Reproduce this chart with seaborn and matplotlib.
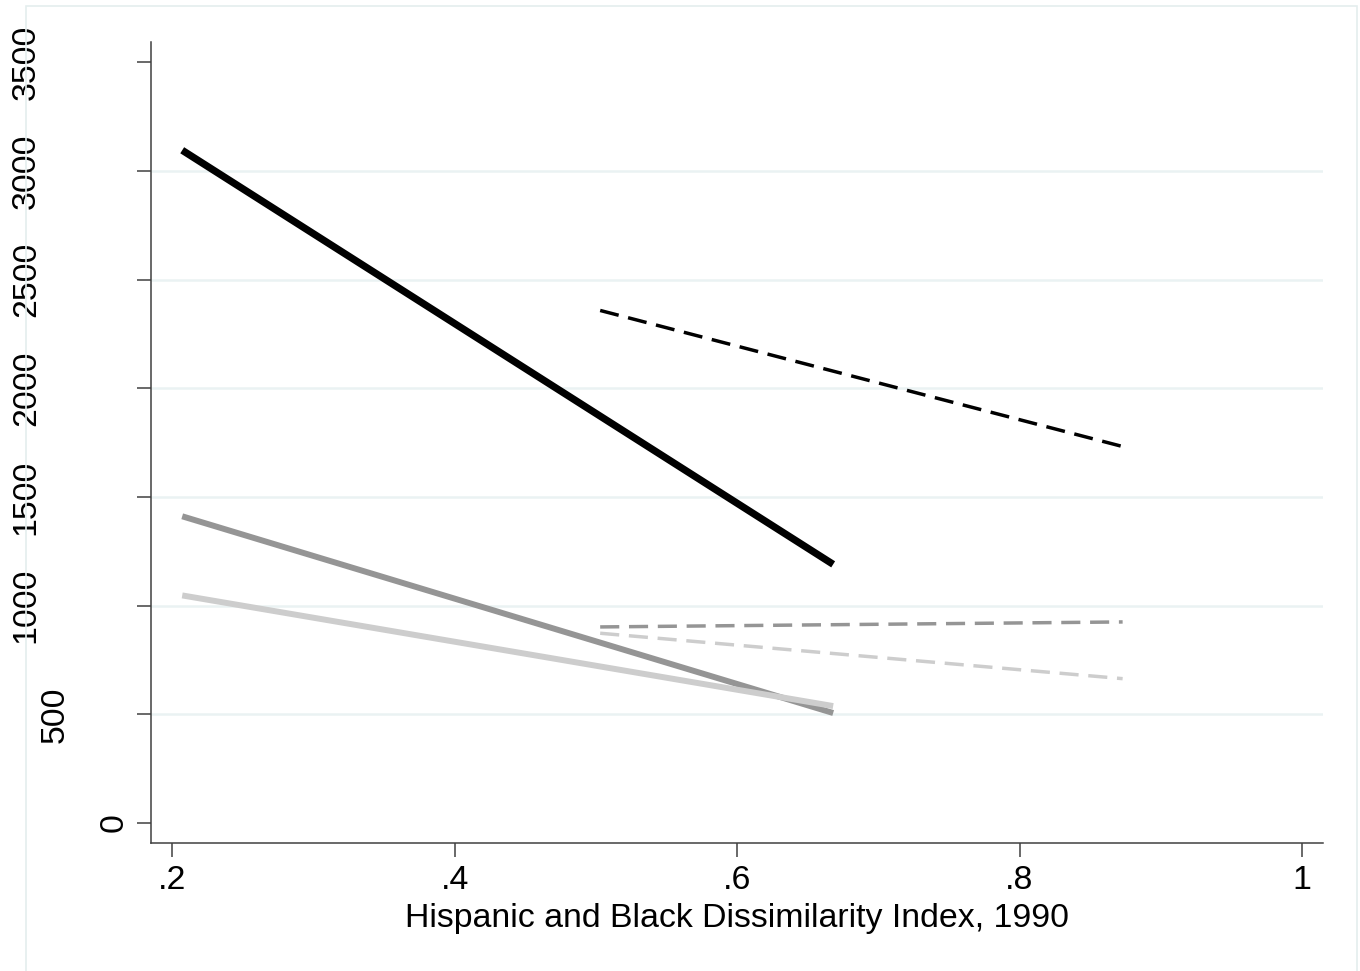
import matplotlib
matplotlib.use("Agg")
import matplotlib.pyplot as plt
import matplotlib.transforms as mtransforms
from matplotlib.patches import Rectangle
import seaborn as sns
import pandas as pd

# ---------------- data ----------------
solid_x = [0.207, 0.668]
black_solid_y = [3095, 1190]
dgray_solid_y = [1411, 506]
lgray_solid_y = [1047, 538]

dash_x = [0.503, 0.873]
black_dash_y = [2358, 1732]
dgray_dash_y = [902, 925]
lgray_dash_y = [873, 664]

x_ticks = [0.2, 0.4, 0.6, 0.8, 1.0]
x_tick_labels = [".2", ".4", ".6", ".8", "1"]
y_ticks = [0, 500, 1000, 1500, 2000, 2500, 3000, 3500]
y_tick_labels = ["0", "500", "1000", "1500", "2000", "2500", "3000", "3500"]
x_label = "Hispanic and Black Dissimilarity Index, 1990"

# ---------------- style ----------------
sns.set_theme(style="white")
plt.rcParams["font.family"] = ["Liberation Sans", "DejaVu Sans"]

FS = 24.4
W, H = 1360, 971
fig = plt.figure(figsize=(W / 100, H / 100), dpi=100)
ax = fig.add_axes([151 / W, 1 - 843 / H, (1323 - 151) / W, (843 - 42) / H])

ax.set_xlim(0.1849, 1.0149)
ax.set_ylim(-92, 3593)

series = [
    (solid_x, black_solid_y, "#000000", 5.2, "-"),
    (solid_x, dgray_solid_y, "#959595", 4.3, "-"),
    (solid_x, lgray_solid_y, "#cdcdcd", 4.3, "-"),
    (dash_x, black_dash_y, "#000000", 2.5, "--"),
    (dash_x, dgray_dash_y, "#959595", 2.5, "--"),
    (dash_x, lgray_dash_y, "#cdcdcd", 2.5, "--"),
]
for xs, ys, col, lw, ls in series:
    df = pd.DataFrame({"x": xs, "y": ys})
    line_ax = sns.lineplot(data=df, x="x", y="y", ax=ax, color=col,
                           linewidth=lw, estimator=None, sort=False)
    ln = line_ax.lines[-1]
    ln.set_solid_capstyle("butt")
    ln.set_dash_capstyle("butt")
    if ls == "--":
        ln.set_linestyle((0, (5.5, 2.8)))

ax.set_xlabel(x_label, fontsize=FS, labelpad=5, color="black")
ax.set_ylabel("")

# ticks
ax.set_xticks(x_ticks)
ax.set_xticklabels(x_tick_labels, fontsize=FS)
ax.set_yticks(y_ticks)
ax.set_yticklabels([])
ax.tick_params(axis="both", which="major", length=10, width=1.1,
               color="#404040", direction="out", bottom=True, left=True)
ax.tick_params(axis="x", pad=6, labelcolor="black")

# rotated y tick labels (Stata-like staggered placement)
trans = mtransforms.blended_transform_factory(fig.transFigure, ax.transData)
for val, lab in zip(y_ticks, y_tick_labels):
    xr = (152 - 29.3 * len(lab)) / W
    ax.text(xr, val, lab, transform=trans, rotation=90, fontsize=FS,
            ha="center", va="baseline", rotation_mode="anchor", color="black")

# gridlines (not at extreme ticks)
ax.grid(False)
for val in y_ticks[1:-1]:
    ax.axhline(val, color="#eaf2f3", linewidth=1.8, zorder=0)

# spines
for s in ["top", "right"]:
    ax.spines[s].set_visible(False)
for s in ["left", "bottom"]:
    ax.spines[s].set_color("#404040")
    ax.spines[s].set_linewidth(1.1)

# outer frame
fig.patches.append(Rectangle((26 / W, -0.01), (1357 - 26) / W, 1 - 6 / H + 0.01,
                             transform=fig.transFigure, fill=False,
                             edgecolor="#e4eeee", linewidth=1.2, zorder=0))

fig.savefig("out.png", dpi=100)
